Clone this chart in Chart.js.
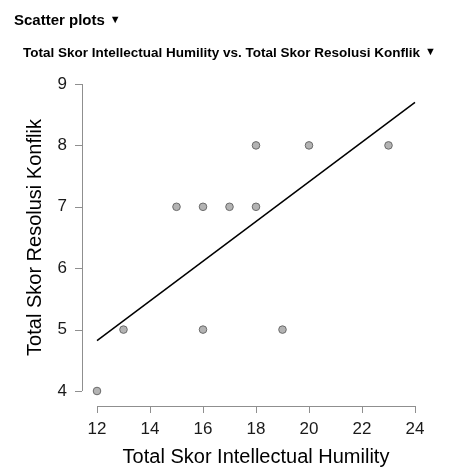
<!DOCTYPE html>
<html>
<head>
<meta charset="utf-8">
<script src="https://cdn.jsdelivr.net/npm/chart.js@4"></script>
<style>
    body { margin: 0; background: #fff; }
    #wrap { position: relative; width: 453px; height: 471px; }
    #chart { position: absolute; left: 0; top: 0; }
    .hdr { position: absolute; font-family: "Liberation Sans", Arial, sans-serif; font-weight: bold; color: #000; white-space: nowrap; }
    .hdr .tri { font-size: 11px; margin-left: 5px; position: relative; top: -2px; }
    #hdr1 { left: 14px; top: 12px; font-size: 15px; line-height: 15px; }
    #hdr2 { left: 23px; top: 46px; font-size: 13.5px; line-height: 13.5px; }
</style>
</head>
<body>
<div id="wrap">
    <canvas id="chart" width="453" height="471"></canvas>
    <div class="hdr" id="hdr1">Scatter plots<span class="tri">▼</span></div>
    <div class="hdr" id="hdr2">Total Skor Intellectual Humility vs. Total Skor Resolusi Konflik<span class="tri">▼</span></div>
</div>
<script>
// data
const intellectualHumility = [12, 13, 15, 16, 16, 17, 18, 18, 19, 20, 23];
const resolusiKonflik = [4, 5, 7, 7, 5, 7, 7, 8, 5, 8, 8];
// garis regresi (ujung-ujungnya)
const fitX = [12, 24];
const fitY = [4.82, 8.70];
const xTicks = [12, 14, 16, 18, 20, 22, 24];
const yTicks = [4, 5, 6, 7, 8, 9];

const FONT = '"Liberation Sans", Arial, sans-serif';

// axis lines dibuat terpisah dari plot (offset), gaya JASP
const detachedAxes = {
    id: 'detachedAxes',
    afterDraw(chart) {
        const ctx = chart.ctx;
        const xs = chart.scales.x, ys = chart.scales.y;
        const area = chart.chartArea;
        const ax = area.left - 15;
        const ay = area.bottom + 15;
        ctx.save();
        ctx.strokeStyle = '#8f8f8f';
        ctx.lineWidth = 1;
        ctx.beginPath();
        // x axis
        ctx.moveTo(xs.getPixelForValue(xTicks[0]), ay + 0.5);
        ctx.lineTo(xs.getPixelForValue(xTicks[xTicks.length - 1]), ay + 0.5);
        xTicks.forEach(v => {
            const px = Math.round(xs.getPixelForValue(v)) + 0.5;
            ctx.moveTo(px, ay);
            ctx.lineTo(px, ay + 7);
        });
        // y axis
        ctx.moveTo(ax + 0.5, ys.getPixelForValue(yTicks[0]));
        ctx.lineTo(ax + 0.5, ys.getPixelForValue(yTicks[yTicks.length - 1]));
        yTicks.forEach(v => {
            const py = Math.round(ys.getPixelForValue(v)) + 0.5;
            ctx.moveTo(ax, py);
            ctx.lineTo(ax - 7, py);
        });
        ctx.stroke();
        ctx.restore();
    }
};

const points = intellectualHumility.map((x, i) => ({ x: x, y: resolusiKonflik[i] }));
const fitLine = fitX.map((x, i) => ({ x: x, y: fitY[i] }));

new Chart(document.getElementById('chart').getContext('2d'), {
    type: 'scatter',
    data: {
        datasets: [
            {
                type: 'line',
                data: fitLine,
                borderColor: '#000',
                borderWidth: 1.5,
                pointRadius: 0,
                fill: false,
                clip: false,
                order: 1
            },
            {
                data: points,
                backgroundColor: '#b3b3b3',
                borderColor: '#6a6a6a',
                borderWidth: 1,
                pointRadius: 3.8,
                clip: false,
                order: 0
            }
        ]
    },
    options: {
        responsive: false,
        animation: false,
        layout: { padding: { top: 84, right: 38, bottom: 0, left: 0 } },
        plugins: { legend: { display: false }, tooltip: { enabled: false } },
        scales: {
            x: {
                type: 'linear',
                min: 12,
                max: 24,
                afterBuildTicks: s => { s.ticks = xTicks.map(v => ({ value: v })); },
                afterFit: s => { s.height = 80; },
                grid: { display: false, drawTicks: false },
                border: { display: false },
                ticks: { padding: 28, color: '#1a1a1a', font: { family: FONT, size: 17 } },
                title: {
                    display: true,
                    text: 'Total Skor Intellectual Humility',
                    color: '#000',
                    font: { family: FONT, size: 20 },
                    padding: { top: 0, bottom: 2 }
                }
            },
            y: {
                type: 'linear',
                min: 4,
                max: 9,
                afterBuildTicks: s => { s.ticks = yTicks.map(v => ({ value: v })); },
                afterFit: s => { s.width = 97; },
                grid: { display: false, drawTicks: false },
                border: { display: false },
                ticks: { padding: 30, color: '#1a1a1a', font: { family: FONT, size: 17 } },
                title: {
                    display: true,
                    text: 'Total Skor Resolusi Konflik',
                    color: '#000',
                    font: { family: FONT, size: 20 },
                    padding: { top: 23, bottom: 0 }
                }
            }
        }
    },
    plugins: [detachedAxes]
});
</script>
</body>
</html>
